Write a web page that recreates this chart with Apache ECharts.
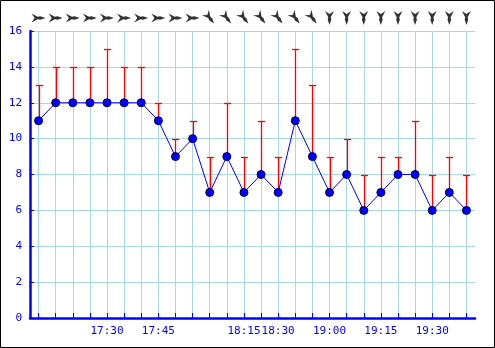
<!DOCTYPE html>
<html><head><meta charset="utf-8">
<style>html,body{margin:0;padding:0;background:#fff}#c{width:495px;height:348px}</style>
<script src="https://cdn.jsdelivr.net/npm/echarts@6/dist/echarts.min.js"></script>
</head><body><div id="c"></div>
<script>
const timeLabels = ['','','','','17:30','','','17:45','','','','','18:15','','18:30','','','19:00','','','19:15','','','19:30','',''];
const speed = [11,12,12,12,12,12,12,11,9,10,7,9,7,8,7,11,9,7,8,6,7,8,8,6,7,6];
const gust  = [13,14,14,14,15,14,14,12,10,11,9,12,9,11,9,15,13,9,10,8,9,9,11,8,9,8];
const dirRotate = [0,0,0,0,0,0,0,0,0,0,-52,-52,-52,-52,-52,-52,-52,-90,-90,-90,-90,-90,-90,-90,-90,-90];
const yTicks = {min:0, max:16, interval:2};

const cats = timeLabels.map((t,i)=>String(i));
const arrowPath = 'path://M0,0 L7,3.6 L10,3 L16,5 L10,7 L7,6.4 L0,10 L3.5,5 Z';
const blue = '#0000ff';
const gridCol = '#a8d8e2';

const chart = echarts.init(document.getElementById('c'), null, {renderer:'canvas'});
chart.setOption({
  animation:false,
  backgroundColor:'#fff',
  graphic:[{type:'rect',shape:{x:0.5,y:0.5,width:494,height:347},style:{fill:'none',stroke:'#000',lineWidth:1},z:-1}],
  grid:[
    {left:30,width:445,top:31,height:287},
    {left:30,width:445,top:10,height:16}
  ],
  xAxis:[{
    type:'category', data:cats, gridIndex:0, boundaryGap:true,
    axisLine:{lineStyle:{color:blue,width:2.5}},
    axisTick:{show:true,inside:true,length:5,interval:0,alignWithLabel:true,lineStyle:{color:blue,width:1}},
    axisLabel:{interval:0,margin:8,color:blue,fontFamily:'DejaVu Sans Mono',fontSize:11,
      formatter:(v,i)=>timeLabels[i]},
    splitLine:{show:true,interval:0,alignWithLabel:true,lineStyle:{color:gridCol,width:1}}
  },{
    type:'category', data:cats, gridIndex:1, show:false, boundaryGap:true
  }],
  yAxis:[{
    type:'value', gridIndex:0, min:yTicks.min, max:yTicks.max, interval:yTicks.interval,
    axisLine:{show:true,lineStyle:{color:blue,width:2.5}},
    axisTick:{show:true,inside:true,length:4,lineStyle:{color:blue,width:1}},
    axisLabel:{color:blue,fontFamily:'DejaVu Sans Mono',fontSize:11,margin:8},
    splitLine:{show:true,lineStyle:{color:gridCol,width:1}}
  },{
    type:'value', gridIndex:1, min:0, max:1, show:false
  }],
  series:[
    {
      type:'custom', xAxisIndex:0, yAxisIndex:0, z:2,
      data: speed.map((s,i)=>[i,s,gust[i]]),
      renderItem:(params,api)=>{
        const p0 = api.coord([api.value(0),api.value(1)]);
        const p1 = api.coord([api.value(0),api.value(2)]);
        const x = Math.round(p0[0])+0.5;
        const y1 = Math.round(p1[1])+0.5;
        return {type:'group',children:[
          {type:'line',shape:{x1:x,y1:p0[1],x2:x,y2:y1},style:{stroke:'#ff0000',lineWidth:1.3}},
          {type:'line',shape:{x1:x-3.5,y1:y1,x2:x+3.5,y2:y1},style:{stroke:'#ff0000',lineWidth:1.3}}
        ]};
      }
    },
    {
      type:'line', xAxisIndex:0, yAxisIndex:0, z:3,
      data:speed,
      lineStyle:{color:blue,width:1},
      symbol:'circle', symbolSize:8,
      itemStyle:{color:blue,borderColor:'#000044',borderWidth:1}
    },
    {
      type:'scatter', xAxisIndex:1, yAxisIndex:1, z:3,
      data: dirRotate.map((r,i)=>({value:[i,0.5],symbolRotate:r})),
      symbol:arrowPath, symbolSize:[14,9],
      itemStyle:{color:'#000'}
    }
  ]
});
</script></body></html>
